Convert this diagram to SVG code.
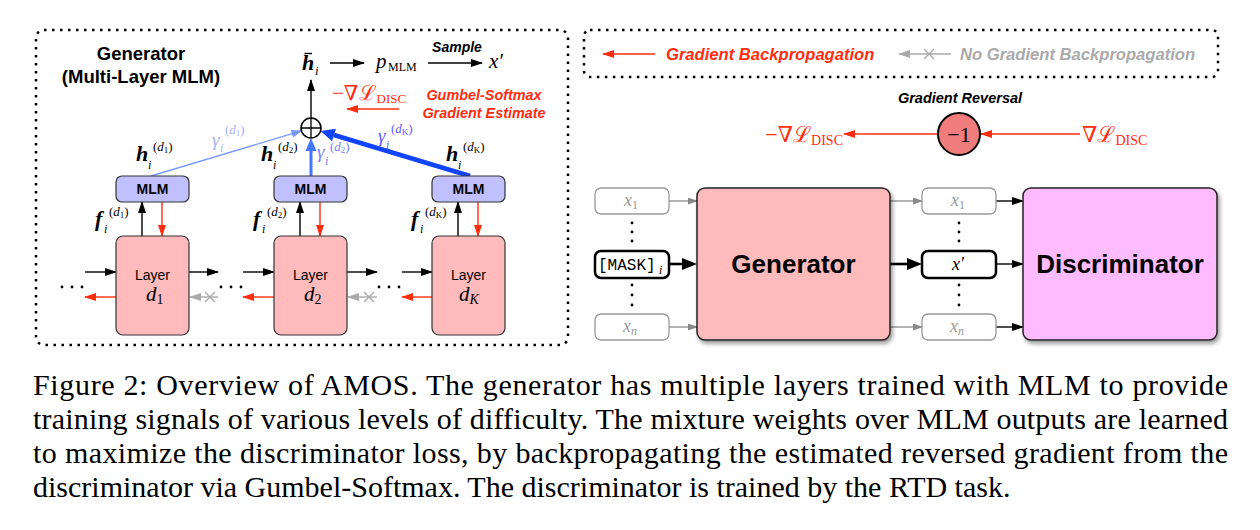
<svg xmlns="http://www.w3.org/2000/svg" width="1260" height="530" viewBox="0 0 1260 530">
<defs>
<style>
.sans{font-family:"Liberation Sans",Arial,sans-serif}
.bi{font-family:"Liberation Sans",Arial,sans-serif;font-weight:bold;font-style:italic}
.bs{font-family:"Liberation Sans",Arial,sans-serif;font-weight:bold}
.mi{font-family:"Liberation Serif","DejaVu Serif",serif;font-style:italic}
.rm{font-family:"Liberation Serif","DejaVu Serif",serif;font-style:normal}
.bm{font-family:"Liberation Serif","DejaVu Serif",serif;font-style:italic;font-weight:bold}
.dotbox{fill:none;stroke:#000;stroke-width:2.5;stroke-dasharray:2.5 5.5}
.blk{stroke:#000;stroke-width:1.4;fill:none}
.red{stroke:#ff2d0f;stroke-width:1.4;fill:none}
.gry{stroke:#aaa;stroke-width:1.4;fill:none}
.gry2{stroke:#888;stroke-width:1.3;fill:none}
.mlm{fill:#c0c0ff;stroke:#333;stroke-width:1.2}
.layer{fill:#ffbbbb;stroke:#333;stroke-width:1.2}
.tok{fill:#fff;stroke:#999;stroke-width:1.3}
.tokb{fill:#fff;stroke:#000;stroke-width:2.5}
.cap{font-family:"Liberation Serif","Times New Roman",serif;font-size:30px;fill:#000}
</style>
<marker id="ab" markerUnits="userSpaceOnUse" viewBox="0 0 12 8" markerWidth="12" markerHeight="8" refX="11" refY="4" orient="auto"><path d="M0,0 L12,4 L0,8 z" fill="#000"/></marker>
<marker id="ar" markerUnits="userSpaceOnUse" viewBox="0 0 12 8" markerWidth="12" markerHeight="8" refX="11" refY="4" orient="auto"><path d="M0,0 L12,4 L0,8 z" fill="#ff2d0f"/></marker>
<marker id="ag" markerUnits="userSpaceOnUse" viewBox="0 0 12 8" markerWidth="12" markerHeight="8" refX="11" refY="4" orient="auto"><path d="M0,0 L12,4 L0,8 z" fill="#aaa"/></marker>
<marker id="ag2" markerUnits="userSpaceOnUse" viewBox="0 0 10 7" markerWidth="10" markerHeight="7" refX="9" refY="3.5" orient="auto"><path d="M0,0 L10,3.5 L0,7 z" fill="#888"/></marker>
<marker id="al" markerUnits="userSpaceOnUse" viewBox="0 0 11 8" markerWidth="11" markerHeight="8" refX="10" refY="4" orient="auto"><path d="M0,0 L11,4 L0,8 z" fill="#7799ff"/></marker>
<filter id="sh" x="-10%" y="-10%" width="125%" height="125%"><feDropShadow dx="2" dy="3" stdDeviation="2" flood-color="#000" flood-opacity="0.4"/></filter>
</defs>
<rect width="1260" height="530" fill="#fff"/>

<!-- frames -->
<rect x="36" y="30" width="532" height="315" rx="8" class="dotbox"/>
<rect x="584" y="30" width="634" height="47" rx="6" class="dotbox"/>

<!-- left panel title -->
<g id="gen-title" class="bs" font-size="18.5" text-anchor="middle">
<text x="141" y="60">Generator</text>
<text x="141" y="83">(Multi-Layer MLM)</text>
</g>

<!-- connectors -->
<g id="connectors">
<line x1="142" y1="236" x2="142" y2="202" class="blk" marker-end="url(#ab)"/>
<line x1="162" y1="202" x2="162" y2="236" class="red" marker-end="url(#ar)"/>
<line x1="300" y1="236" x2="300" y2="202" class="blk" marker-end="url(#ab)"/>
<line x1="320" y1="202" x2="320" y2="236" class="red" marker-end="url(#ar)"/>
<line x1="458" y1="236" x2="458" y2="202" class="blk" marker-end="url(#ab)"/>
<line x1="478" y1="202" x2="478" y2="236" class="red" marker-end="url(#ar)"/>
<line x1="85" y1="272" x2="116" y2="272" class="blk" marker-end="url(#ab)"/>
<line x1="189" y1="272" x2="218" y2="272" class="blk" marker-end="url(#ab)"/>
<line x1="243" y1="272" x2="274" y2="272" class="blk" marker-end="url(#ab)"/>
<line x1="347" y1="272" x2="377" y2="272" class="blk" marker-end="url(#ab)"/>
<line x1="402" y1="272" x2="432" y2="272" class="blk" marker-end="url(#ab)"/>
<line x1="116" y1="297" x2="85" y2="297" class="red" marker-end="url(#ar)"/>
<line x1="274" y1="297" x2="243" y2="297" class="red" marker-end="url(#ar)"/>
<line x1="432" y1="297" x2="402" y2="297" class="red" marker-end="url(#ar)"/>
<line x1="218" y1="297" x2="190" y2="297" class="gry" marker-end="url(#ag)"/>
<path d="M205,292 L215,302 M205,302 L215,292" class="gry"/>
<line x1="377" y1="297" x2="348" y2="297" class="gry" marker-end="url(#ag)"/>
<path d="M364,292 L374,302 M364,302 L374,292" class="gry"/>
<line x1="151" y1="176" x2="301.4" y2="130.9" stroke="#7799ff" stroke-width="1.4" marker-end="url(#al)"/>
<line x1="311" y1="176" x2="311" y2="149" stroke="#4477ff" stroke-width="3"/>
<polygon points="311,138 305.5,151 316.5,151" fill="#4477ff"/>
<line x1="470" y1="176" x2="334" y2="135" stroke="#1144ff" stroke-width="4.5"/>
<polygon points="320.6,130.9 335.9,128.7 332.1,141.2" fill="#1144ff"/>
<line x1="311" y1="118" x2="311" y2="80" class="blk" marker-end="url(#ab)"/>
<line x1="330" y1="63" x2="364" y2="63" class="blk" marker-end="url(#ab)"/>
<line x1="428" y1="63" x2="482" y2="63" class="blk" marker-end="url(#ab)"/>
<line x1="399" y1="109" x2="347" y2="109" class="red" marker-end="url(#ar)"/>
<line x1="655" y1="54" x2="603" y2="54" class="red" marker-end="url(#ar)"/>
<line x1="951" y1="54" x2="899" y2="54" class="gry" marker-end="url(#ag)"/>
<path d="M924,49 L934,59 M924,59 L934,49" class="gry"/>
<line x1="1080" y1="134" x2="981" y2="134" class="red" marker-end="url(#ar)"/>
<line x1="937" y1="134" x2="844" y2="134" class="red" marker-end="url(#ar)"/>
<line x1="669" y1="201" x2="697" y2="201" class="gry2" marker-end="url(#ag2)"/>
<line x1="669" y1="327" x2="697" y2="327" class="gry2" marker-end="url(#ag2)"/>
<line x1="669" y1="264" x2="684" y2="264" stroke="#000" stroke-width="2.6"/>
<polygon points="697,264 682,258 682,270" fill="#000"/>
<line x1="890" y1="201" x2="922" y2="201" class="gry2" marker-end="url(#ag2)"/>
<line x1="890" y1="327" x2="922" y2="327" class="gry2" marker-end="url(#ag2)"/>
<line x1="890" y1="264" x2="909" y2="264" stroke="#000" stroke-width="2.6"/>
<polygon points="922,264 907,258 907,270" fill="#000"/>
<line x1="996" y1="201" x2="1023" y2="201" class="blk" marker-end="url(#ab)"/>
<line x1="996" y1="264" x2="1023" y2="264" class="blk" marker-end="url(#ab)"/>
<line x1="996" y1="327" x2="1023" y2="327" class="blk" marker-end="url(#ab)"/>
</g>

<g id="oplus">
<circle cx="311" cy="128" r="10" fill="#fff" stroke="#000" stroke-width="1.5"/>
<path d="M301,128 L321,128 M311,118 L311,138" stroke="#000" stroke-width="1.3"/>
</g>

<g id="hbar">
<text x="302" y="70" class="bm" font-size="22">h</text>
<line x1="304.5" y1="53.5" x2="312" y2="53.5" stroke="#000" stroke-width="1.4"/>
<text x="315" y="75" class="mi" font-size="13">i</text>
</g>
<g id="pmlm">
<text x="376" y="68" class="mi" font-size="21">p</text>
<text x="388" y="71" class="rm" font-size="12">MLM</text>
</g>
<text id="sample" x="457" y="52" class="bi" font-size="14" text-anchor="middle">Sample</text>
<text id="xprime" x="489" y="68" class="mi" font-size="21">x′</text>
<g id="gumbel" fill="#ff2d0f">
<text x="332" y="100" class="rm" font-size="21">−∇ℒ<tspan font-size="13" dy="3">DISC</tspan></text>
<text x="484" y="100" class="bi" font-size="14.4" text-anchor="middle">Gumbel-Softmax</text>
<text x="484" y="118" class="bi" font-size="14.4" text-anchor="middle">Gradient Estimate</text>
</g>

<g id="gamma1" fill="#a8b0ff">
<text x="212" y="146" class="mi" font-size="19">γ</text>
<text x="220" y="152" class="mi" font-size="12">i</text>
<text x="225" y="134" class="rm" font-size="13">(<tspan class="mi">d</tspan><tspan font-size="9" dy="2">1</tspan><tspan dy="-2">)</tspan></text>
</g>
<g id="gamma2" fill="#7a7aff">
<text x="317" y="158" class="mi" font-size="19">γ</text>
<text x="325" y="165" class="mi" font-size="12">i</text>
<text x="330" y="151" class="rm" font-size="13">(<tspan class="mi">d</tspan><tspan font-size="9" dy="2">2</tspan><tspan dy="-2">)</tspan></text>
</g>
<g id="gammaK" fill="#5a5aff">
<text x="378" y="142" class="mi" font-size="19">γ</text>
<text x="386" y="149" class="mi" font-size="12">i</text>
<text x="391" y="133" class="rm" font-size="13">(<tspan class="mi">d</tspan><tspan font-size="9" dy="2">K</tspan><tspan dy="-2">)</tspan></text>
</g>

<g id="h1">
<text x="136" y="161" class="bm" font-size="22">h</text>
<text x="148" y="169" class="mi" font-size="12">i</text>
<text x="153" y="151" class="rm" font-size="13">(<tspan class="mi">d</tspan><tspan font-size="9" dy="2">1</tspan><tspan dy="-2">)</tspan></text>
</g>
<g id="h2">
<text x="261" y="161" class="bm" font-size="22">h</text>
<text x="273" y="169" class="mi" font-size="12">i</text>
<text x="278" y="151" class="rm" font-size="13">(<tspan class="mi">d</tspan><tspan font-size="9" dy="2">2</tspan><tspan dy="-2">)</tspan></text>
</g>
<g id="hK">
<text x="446" y="161" class="bm" font-size="22">h</text>
<text x="458" y="169" class="mi" font-size="12">i</text>
<text x="463" y="151" class="rm" font-size="13">(<tspan class="mi">d</tspan><tspan font-size="9" dy="2">K</tspan><tspan dy="-2">)</tspan></text>
</g>

<g id="f1">
<text x="95" y="226" class="bm" font-size="22">f</text>
<text x="104" y="233" class="mi" font-size="12">i</text>
<text x="109" y="216" class="rm" font-size="13">(<tspan class="mi">d</tspan><tspan font-size="9" dy="2">1</tspan><tspan dy="-2">)</tspan></text>
</g>
<g id="f2">
<text x="253" y="226" class="bm" font-size="22">f</text>
<text x="262" y="233" class="mi" font-size="12">i</text>
<text x="267" y="216" class="rm" font-size="13">(<tspan class="mi">d</tspan><tspan font-size="9" dy="2">2</tspan><tspan dy="-2">)</tspan></text>
</g>
<g id="fK">
<text x="411" y="226" class="bm" font-size="22">f</text>
<text x="420" y="233" class="mi" font-size="12">i</text>
<text x="425" y="216" class="rm" font-size="13">(<tspan class="mi">d</tspan><tspan font-size="9" dy="2">K</tspan><tspan dy="-2">)</tspan></text>
</g>

<g id="mlm1"><rect x="116" y="176" width="73" height="26" rx="6" class="mlm"/><text x="152.5" y="194" class="bs" font-size="14" text-anchor="middle">MLM</text></g>
<g id="mlm2"><rect x="274" y="176" width="73" height="26" rx="6" class="mlm"/><text x="310.5" y="194" class="bs" font-size="14" text-anchor="middle">MLM</text></g>
<g id="mlmK"><rect x="432" y="176" width="73" height="26" rx="6" class="mlm"/><text x="468.5" y="194" class="bs" font-size="14" text-anchor="middle">MLM</text></g>

<g id="layer1"><rect x="116" y="236" width="73" height="99" rx="7" class="layer"/><text x="152.5" y="280" class="sans" font-size="14" text-anchor="middle">Layer</text><text x="146" y="301" class="mi" font-size="21">d<tspan font-size="14" dy="3" class="rm">1</tspan></text></g>
<g id="layer2"><rect x="274" y="236" width="73" height="99" rx="7" class="layer"/><text x="310.5" y="280" class="sans" font-size="14" text-anchor="middle">Layer</text><text x="304" y="301" class="mi" font-size="21">d<tspan font-size="14" dy="3" class="rm">2</tspan></text></g>
<g id="layerK"><rect x="432" y="236" width="73" height="99" rx="7" class="layer"/><text x="468.5" y="280" class="sans" font-size="14" text-anchor="middle">Layer</text><text x="459" y="301" class="mi" font-size="21">d<tspan font-size="14" dy="3">K</tspan></text></g>

<g id="dots" fill="#000">
<circle cx="62" cy="287" r="1.4"/><circle cx="72" cy="287" r="1.4"/><circle cx="82" cy="287" r="1.4"/>
<circle cx="221" cy="287" r="1.4"/><circle cx="231" cy="287" r="1.4"/><circle cx="241" cy="287" r="1.4"/>
<circle cx="379" cy="287" r="1.4"/><circle cx="389" cy="287" r="1.4"/><circle cx="399" cy="287" r="1.4"/>
<circle cx="632" cy="223" r="1.4"/><circle cx="632" cy="232" r="1.4"/><circle cx="632" cy="241" r="1.4"/>
<circle cx="632" cy="285" r="1.4"/><circle cx="632" cy="295" r="1.4"/><circle cx="632" cy="305" r="1.4"/>
<circle cx="959" cy="223" r="1.4"/><circle cx="959" cy="232" r="1.4"/><circle cx="959" cy="241" r="1.4"/>
<circle cx="959" cy="285" r="1.4"/><circle cx="959" cy="295" r="1.4"/><circle cx="959" cy="305" r="1.4"/>
</g>

<g id="legend">
<text x="666" y="60" class="bi" font-size="16.6" fill="#ff2d0f">Gradient Backpropagation</text>
<text x="960" y="60" class="bi" font-size="16.6" fill="#aaa">No Gradient Backpropagation</text>
</g>

<g id="reversal">
<text x="960" y="103" class="bi" font-size="14.5" text-anchor="middle">Gradient Reversal</text>
<circle cx="959" cy="134" r="21" fill="#f07c7c" stroke="#000" stroke-width="2"/>
<text x="959" y="142" class="rm" font-size="22" text-anchor="middle">−1</text>
</g>
<g id="neg-grad" fill="#ff2d0f"><text x="843" y="142" class="rm" font-size="22" text-anchor="end">−∇ℒ<tspan font-size="14" dy="3">DISC</tspan></text></g>
<g id="pos-grad" fill="#ff2d0f"><text x="1082" y="142" class="rm" font-size="22">∇ℒ<tspan font-size="14" dy="3">DISC</tspan></text></g>

<g id="in-x1"><rect x="595" y="188" width="74" height="26" rx="6" class="tok"/><text x="624" y="206" class="mi" font-size="18" fill="#999">x<tspan font-size="12" dy="3" class="rm">1</tspan></text></g>
<g id="in-mask"><rect x="595" y="251" width="74" height="27" rx="6" class="tokb"/><text x="598" y="270" font-family="Liberation Mono,monospace" font-size="16">[MASK]</text><text x="659" y="274" class="mi" font-size="12">i</text></g>
<g id="in-xn"><rect x="595" y="314" width="74" height="26" rx="6" class="tok"/><text x="623" y="332" class="mi" font-size="18" fill="#999">x<tspan font-size="12" dy="3">n</tspan></text></g>

<g id="generator"><rect x="697" y="188" width="193" height="152" rx="8" fill="#ffbbbb" stroke="#222" stroke-width="1.5" filter="url(#sh)"/><text x="793.5" y="273" class="bs" font-size="26" text-anchor="middle">Generator</text></g>

<g id="out-x1"><rect x="922" y="188" width="74" height="26" rx="6" class="tok"/><text x="951" y="206" class="mi" font-size="18" fill="#999">x<tspan font-size="12" dy="3" class="rm">1</tspan></text></g>
<g id="out-xp"><rect x="922" y="251" width="74" height="27" rx="6" class="tokb"/><text x="952" y="270" class="mi" font-size="18">x′</text></g>
<g id="out-xn"><rect x="922" y="314" width="74" height="26" rx="6" class="tok"/><text x="950" y="332" class="mi" font-size="18" fill="#999">x<tspan font-size="12" dy="3">n</tspan></text></g>

<g id="discriminator"><rect x="1023" y="188" width="194" height="152" rx="8" fill="#ffbbff" stroke="#222" stroke-width="1.5" filter="url(#sh)"/><text x="1120" y="273" class="bs" font-size="26" text-anchor="middle">Discriminator</text></g>

<g id="caption" class="cap">
<text x="33" y="395" textLength="1195" lengthAdjust="spacing">Figure 2:  Overview of AMOS. The generator has multiple layers trained with MLM to provide</text>
<text x="33" y="429" textLength="1195" lengthAdjust="spacing">training signals of various levels of difficulty. The mixture weights over MLM outputs are learned</text>
<text x="33" y="463" textLength="1195" lengthAdjust="spacing">to maximize the discriminator loss, by backpropagating the estimated reversed gradient from the</text>
<text x="33" y="497">discriminator via Gumbel-Softmax. The discriminator is trained by the RTD task.</text>
</g>
</svg>
